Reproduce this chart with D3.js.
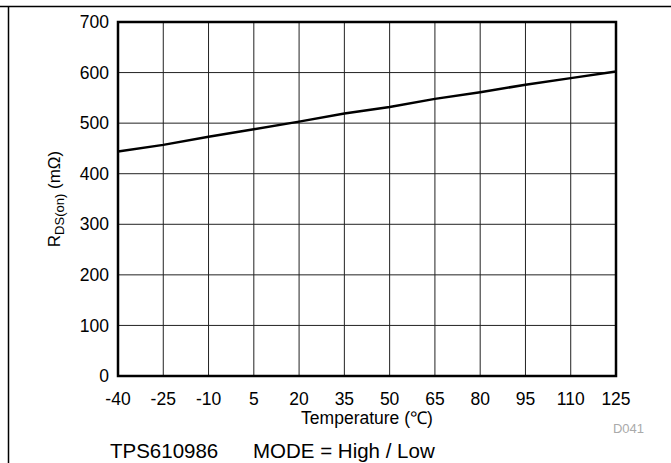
<!DOCTYPE html>
<html>
<head>
<meta charset="utf-8">
<script src="https://cdn.jsdelivr.net/npm/d3@7"></script>
<style>
  body { margin: 0; background: #fff; }
  text { font-family: "Liberation Sans", Arial, sans-serif; }
</style>
</head>
<body>
<div id="container"></div>
<script>
// data
const temps = [-40, -25, -10, 5, 20, 35, 50, 65, 80, 95, 110, 125];
const rdson = [444, 457, 473, 488, 503, 519, 532, 548, 561, 576, 589, 602];
const xTicks = [-40, -25, -10, 5, 20, 35, 50, 65, 80, 95, 110, 125];
const yTicks = [0, 100, 200, 300, 400, 500, 600, 700];

const width = 671, height = 463;
const margin = { left: 118, right: 55, top: 22, bottom: 87 };

const svg = d3.select("#container")
  .append("svg")
  .attr("width", width)
  .attr("height", height);

// outer frame (top + left only)
svg.append("line").attr("x1", 0).attr("x2", width).attr("y1", 6.5).attr("y2", 6.5)
  .attr("stroke", "#000").attr("stroke-width", 1.5);
svg.append("line").attr("x1", 8.5).attr("x2", 8.5).attr("y1", 6).attr("y2", height)
  .attr("stroke", "#000").attr("stroke-width", 1.5);

const x = d3.scaleLinear().domain([-40, 125]).range([margin.left, width - margin.right]);
const y = d3.scaleLinear().domain([0, 700]).range([height - margin.bottom, margin.top]);

// grid
svg.append("g")
  .selectAll("line.vg")
  .data(xTicks.slice(1, -1))
  .join("line")
  .attr("class", "vg")
  .attr("x1", d => x(d)).attr("x2", d => x(d))
  .attr("y1", y(0)).attr("y2", y(700))
  .attr("stroke", "#222").attr("stroke-width", 1);

svg.append("g")
  .selectAll("line.hg")
  .data(yTicks.slice(1, -1))
  .join("line")
  .attr("class", "hg")
  .attr("x1", x(-40)).attr("x2", x(125))
  .attr("y1", d => y(d)).attr("y2", d => y(d))
  .attr("stroke", "#222").attr("stroke-width", 1);

// data line
const line = d3.line().x((d, i) => x(temps[i])).y(d => y(d));
svg.append("path")
  .datum(rdson)
  .attr("d", line)
  .attr("fill", "none")
  .attr("stroke", "#000")
  .attr("stroke-width", 2.5);

// plot frame
svg.append("rect")
  .attr("x", x(-40)).attr("y", y(700))
  .attr("width", x(125) - x(-40)).attr("height", y(0) - y(700))
  .attr("fill", "none").attr("stroke", "#000").attr("stroke-width", 2.5);

// tick labels
svg.append("g")
  .selectAll("text")
  .data(yTicks)
  .join("text")
  .attr("x", margin.left - 9)
  .attr("y", d => y(d))
  .attr("dy", "0.35em")
  .attr("text-anchor", "end")
  .attr("font-size", 17.5)
  .text(d => d);

svg.append("g")
  .selectAll("text")
  .data(xTicks)
  .join("text")
  .attr("x", d => x(d))
  .attr("y", 405)
  .attr("text-anchor", "middle")
  .attr("font-size", 17.5)
  .text(d => d);

// axis titles
svg.append("text")
  .attr("x", (x(-40) + x(125)) / 2)
  .attr("y", 424)
  .attr("text-anchor", "middle")
  .attr("font-size", 17.5)
  .text("Temperature (℃)");

const yl = svg.append("text")
  .attr("transform", `translate(60,${(y(0) + y(700)) / 2}) rotate(-90)`)
  .attr("text-anchor", "middle")
  .attr("font-size", 17);
yl.append("tspan").text("R");
yl.append("tspan").attr("font-size", 13).attr("dy", 4).text("DS(on)");
yl.append("tspan").attr("dy", -4).text(" (mΩ)");

svg.append("text")
  .attr("x", 644).attr("y", 433)
  .attr("text-anchor", "end")
  .attr("font-size", 13)
  .attr("fill", "#aaa")
  .text("D041");

svg.append("text")
  .attr("x", 110).attr("y", 458)
  .attr("font-size", 20.5)
  .text("TPS610986");
svg.append("text")
  .attr("x", 253).attr("y", 458)
  .attr("font-size", 20.5)
  .text("MODE = High / Low");
</script>
</body>
</html>
